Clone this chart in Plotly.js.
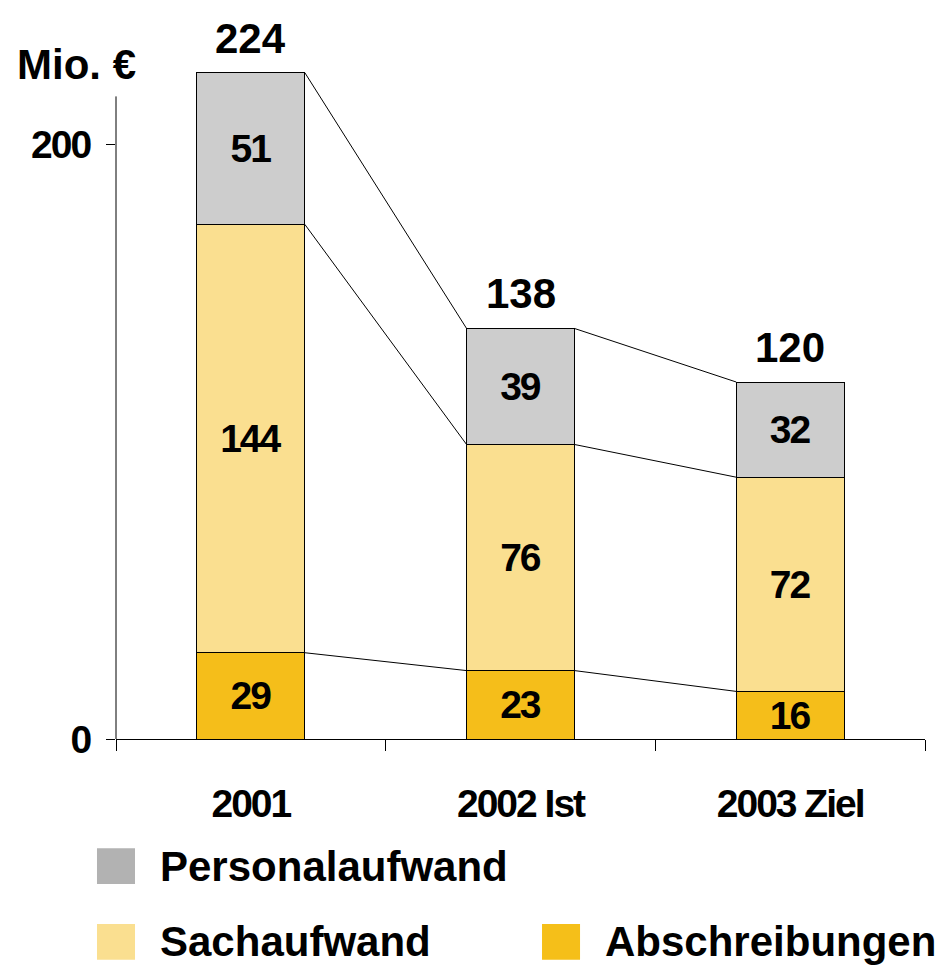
<!DOCTYPE html>
<html>
<head>
<meta charset="utf-8">
<script src="https://cdn.plot.ly/plotly-3.0.1.min.js"></script>
<style>
  body { margin: 0; background: #fff; }
  #chart { width: 945px; height: 968px; }
  .xtick text, .ytick text, .bartext { letter-spacing: -2px; }
</style>
</head>
<body>
<div id="chart"></div>
<script>
// Kosten in Mio. EUR
var years = ['2001', '2002 Ist', '2003 Ziel'];
var abschreibungen = [29, 23, 16];
var sachaufwand = [144, 76, 72];
var personalaufwand = [51, 39, 32];
var totals = [224, 138, 120];

var narrow = 'Liberation Sans, Arial, sans-serif';
var wide = 'Liberation Sans, Arial, sans-serif';

var xs = years.map((y, i) => i);
var barWidth = 0.4;

function barTrace(name, vals, color) {
    return {
        type: 'bar',
        name: name,
        x: xs,
        y: vals,
        width: barWidth,
        text: vals.map(String),
        textposition: 'inside',
        insidetextanchor: 'middle',
        textangle: 0,
        textfont: {family: narrow, size: 39, color: 'black', weight: 'bold'},
        marker: {color: color, line: {color: 'black', width: 1}},
        hoverinfo: 'skip',
        showlegend: false
    };
}

var data = [
    barTrace('Abschreibungen', abschreibungen, '#F5BE1A'),
    barTrace('Sachaufwand', sachaufwand, '#FADF90'),
    barTrace('Personalaufwand', personalaufwand, '#CDCDCD')
];

// connector lines between stack levels
var level1 = abschreibungen;
var level2 = abschreibungen.map((v, i) => v + sachaufwand[i]);
var level3 = level2.map((v, i) => v + personalaufwand[i]);
[level1, level2, level3].forEach(function(lvl) {
    var lx = [], ly = [];
    for (var i = 0; i < lvl.length - 1; i++) {
        lx.push(i + barWidth / 2, i + 1 - barWidth / 2, null);
        ly.push(lvl[i], lvl[i + 1], null);
    }
    data.push({
        type: 'scatter', mode: 'lines', x: lx, y: ly,
        line: {color: 'black', width: 1},
        hoverinfo: 'skip', showlegend: false
    });
});

var annotations = totals.map(function(t, i) {
    return {
        x: i, y: t, xref: 'x', yref: 'y',
        text: String(t), showarrow: false,
        yanchor: 'bottom', yshift: 9,
        font: {family: wide, size: 42, color: 'black', weight: 'bold'}
    };
});
annotations.push({
    x: -0.125, y: 0.944, xref: 'paper', yref: 'paper',
    xanchor: 'left', yanchor: 'middle', showarrow: false,
    text: 'Mio. €',
    font: {family: wide, size: 42, color: 'black', weight: 'bold'}
});

// legend built by hand
var legendItems = [
    {name: 'Personalaufwand', color: '#B2B2B2', x: -0.0235, y: -0.178},
    {name: 'Sachaufwand', color: '#FADF90', x: -0.0235, y: -0.284},
    {name: 'Abschreibungen', color: '#F5BF19', x: 0.5266, y: -0.284}
];
var shapes = [{
    type: 'line', xref: 'paper', yref: 'paper',
    x0: 0, x1: 0, y0: 0, y1: 0.9,
    line: {color: 'black', width: 1}
}];
legendItems.forEach(function(it) {
    shapes.push({
        type: 'rect', xref: 'paper', yref: 'paper',
        x0: it.x, x1: it.x + 0.047, y0: it.y - 0.025, y1: it.y + 0.025,
        fillcolor: it.color, line: {width: 0}
    });
    annotations.push({
        x: it.x + 0.075, y: it.y, xref: 'paper', yref: 'paper',
        xanchor: 'left', yanchor: 'middle', showarrow: false,
        text: it.name,
        font: {family: wide, size: 42, color: 'black', weight: 'bold'}
    });
});

var layout = {
    width: 945,
    height: 968,
    margin: {l: 116, r: 20, t: 25, b: 229},
    barmode: 'stack',
    paper_bgcolor: 'white',
    plot_bgcolor: 'white',
    showlegend: false,
    uniformtext: {mode: 'show', minsize: 39},
    xaxis: {
        range: [-0.5, 2.5],
        tickvals: xs,
        ticktext: years,
        ticks: '',
        ticklabelstandoff: 30,
        tickfont: {family: narrow, size: 39, color: 'black', weight: 'bold'},
        showline: true, linecolor: 'black', linewidth: 1,
        showgrid: false, zeroline: false,
        minor: {
            tickvals: [-0.5, 0.5, 1.5, 2.5],
            ticks: 'outside', ticklen: 11, tickcolor: 'black', tickwidth: 1,
            showgrid: false
        },
        fixedrange: true
    },
    yaxis: {
        range: [0, 240],
        tickvals: [0, 200],
        ticks: 'outside', ticklen: 9, tickcolor: 'black', tickwidth: 1,
        ticklabelstandoff: 8,
        tickfont: {family: narrow, size: 39, color: 'black', weight: 'bold'},
        showline: false, showgrid: false, zeroline: false,
        fixedrange: true
    },
    annotations: annotations,
    shapes: shapes
};

Plotly.newPlot('chart', data, layout, {displayModeBar: false, staticPlot: true});
</script>
</body>
</html>
